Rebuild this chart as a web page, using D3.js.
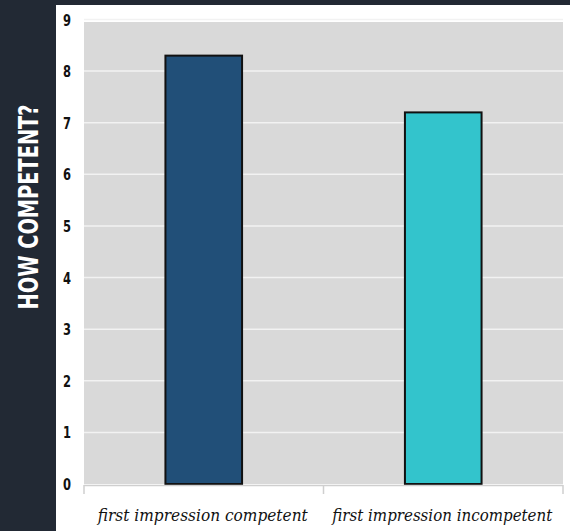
<!DOCTYPE html>
<html lang="en">
<head>
    <meta charset="UTF-8">
    <script src="https://d3js.org/d3.v7.min.js"></script>
    <title>How competent?</title>
    <style>
        body { margin: 0; background: #222934; }
        .tick-label { font-family: "DejaVu Sans Condensed", sans-serif; font-weight: bold; font-size: 16px; fill: #111; }
        .cat-label { font-family: "DejaVu Serif", serif; font-style: italic; font-size: 17px; fill: #111; }
        .y-title { font-family: "DejaVu Sans Condensed", sans-serif; font-weight: bold; font-size: 27px; fill: #fff; }
    </style>
</head>
<body>
    <svg width="570" height="531"></svg>
    <script>
        var categories = ["first impression competent", "first impression incompetent"];
        var values = [8.3, 7.2];
        var colors = ["#214f78", "#33c4cc"];
        var yTicks = [0, 1, 2, 3, 4, 5, 6, 7, 8, 9];
        var labelWidths = [210, 220];

        var svg = d3.select("svg");

        // white card behind the chart
        svg.append("rect").attr("x", 56).attr("y", 5).attr("width", 514).attr("height", 526).attr("fill", "#fff");

        var x = d3.scaleBand().domain(categories).range([84, 563]);
        var y = d3.scaleLinear().domain([0, 9]).range([484, 19.5]);

        svg.append("rect")
            .attr("x", 84).attr("y", 22)
            .attr("width", 479).attr("height", y(0) - 22)
            .attr("fill", "#d9d9d9");

        svg.append("g").selectAll("line")
            .data(yTicks.filter(d => d > 0))
            .enter().append("line")
            .attr("x1", 84).attr("x2", 563)
            .attr("y1", d => y(d)).attr("y2", d => y(d))
            .attr("stroke", "#f2f2f2").attr("stroke-width", 1.5);

        svg.append("g").selectAll("text")
            .data(yTicks)
            .enter().append("text")
            .attr("class", "tick-label")
            .attr("x", 67).attr("y", d => y(d) + 6)
            .attr("text-anchor", "middle")
            .attr("textLength", 8)
            .attr("lengthAdjust", "spacingAndGlyphs")
            .text(d => d);

        svg.append("g").selectAll("rect")
            .data(values)
            .enter().append("rect")
            .attr("x", (d, i) => x(categories[i]) + x.bandwidth() * 0.34)
            .attr("width", x.bandwidth() * 0.32)
            .attr("y", d => y(d))
            .attr("height", d => y(0) - y(d))
            .attr("fill", (d, i) => colors[i])
            .attr("stroke", "#111").attr("stroke-width", 2);

        // bottom axis
        var ax = svg.append("g").attr("stroke", "#cfcfcf").attr("stroke-width", 1.5);
        ax.append("line").attr("x1", 84).attr("x2", 563).attr("y1", 485.5).attr("y2", 485.5);
        ax.selectAll("line.tk")
            .data([84, x(categories[1]), 563])
            .enter().append("line").attr("class", "tk")
            .attr("x1", d => d).attr("x2", d => d)
            .attr("y1", 485).attr("y2", 494);

        svg.append("g").selectAll("text")
            .data(categories)
            .enter().append("text")
            .attr("class", "cat-label")
            .attr("x", d => x(d) + x.bandwidth() / 2 - 1)
            .attr("y", 521)
            .attr("text-anchor", "middle")
            .attr("textLength", (d, i) => labelWidths[i])
            .attr("lengthAdjust", "spacingAndGlyphs")
            .text(d => d);

        svg.append("text")
            .attr("class", "y-title")
            .attr("transform", "translate(38,207) rotate(-90)")
            .attr("text-anchor", "middle")
            .attr("textLength", 205)
            .attr("lengthAdjust", "spacingAndGlyphs")
            .text("HOW COMPETENT?");
    </script>
</body>
</html>
